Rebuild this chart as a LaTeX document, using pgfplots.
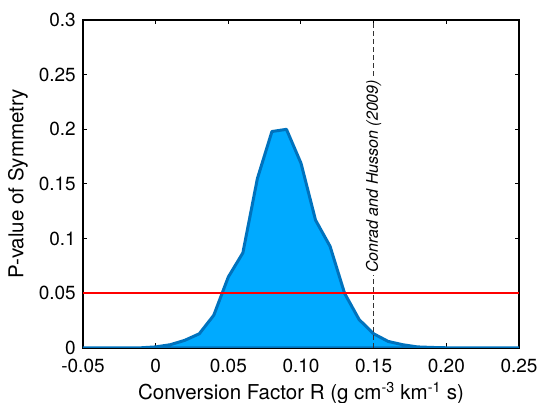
\documentclass[border=0pt]{standalone}
\usepackage{fontspec}
\setmainfont{TeX Gyre Heros}
\usepackage{pgfplots}
\pgfplotsset{compat=1.18}
\usetikzlibrary{calc}
\definecolor{fillblue}{RGB}{0,170,255}
\definecolor{lineblue}{RGB}{0,114,189}
\begin{document}
\begin{tikzpicture}
\begin{axis}[
  name=main,
  at={(0,0)}, anchor=south west,
  scale only axis,
  width=436pt, height=328pt,
  xmin=-0.05, xmax=0.25, ymin=0, ymax=0.3,
  xtick={-0.05,0,0.05,0.10,0.15,0.20,0.25},
  xticklabels={-0.05,0,0.05,0.10,0.15,0.20,0.25},
  ytick={0,0.05,0.1,0.15,0.2,0.25,0.3},
  yticklabels={0,0.05,0.1,0.15,0.2,0.25,0.3},
  tick align=inside,
  major tick length=4.5pt,
  tick style={black, line width=1pt},
  axis line style={black, line width=1.3pt},
  ticklabel style={font=\fontsize{19}{21}\selectfont, inner sep=2pt},
  label style={font=\fontsize{20.5}{23}\selectfont},
  xlabel={Conversion Factor R (g cm\textsuperscript{-3} km\textsuperscript{-1} s)},
  ylabel={P-value of Symmetry},
  xlabel style={at={(rel axis cs:0.5,0)}, yshift=-34pt, anchor=north, inner sep=0pt},
  ylabel style={at={(rel axis cs:0,0.5)}, rotate=0, yshift=55pt, anchor=south, inner sep=0pt},
  xticklabel style={yshift=-9pt},
  yticklabel style={xshift=-5pt},
  /pgf/number format/assume math mode=true,
]
\addplot[fill=fillblue, draw=lineblue, line width=3pt, line join=round] coordinates {
(-0.05,0) (-0.04,0) (-0.03,0) (-0.02,0) (-0.01,0.0002)
(0,0.001) (0.01,0.003) (0.02,0.007) (0.03,0.013) (0.04,0.030)
(0.05,0.065) (0.06,0.087) (0.07,0.155) (0.08,0.198) (0.09,0.200)
(0.10,0.169) (0.11,0.117) (0.12,0.093) (0.13,0.050) (0.14,0.026)
(0.15,0.013) (0.16,0.006) (0.17,0.003) (0.18,0.001) (0.19,0.0005)
(0.20,0.0002) (0.21,0) (0.22,0) (0.23,0) (0.24,0) (0.25,0)
} \closedcycle;
\addplot[red, line width=1.8pt] coordinates {(-0.05,0.05) (0.25,0.05)};
\addplot[black!80, line width=1pt, dash pattern=on 5pt off 3pt] coordinates {(0.15,0) (0.15,0.3)};
\node[rotate=90, fill=white, inner sep=2pt, font=\itshape\fontsize{16}{18}\selectfont] at (axis cs:0.15,0.157) {Conrad and Husson (2009)};
\end{axis}
\pgfresetboundingbox
\useasboundingbox ($(main.south west)+(-83pt,-55pt)$) rectangle ($(main.north east)+(22pt,20pt)$);
\end{tikzpicture}
\end{document}
